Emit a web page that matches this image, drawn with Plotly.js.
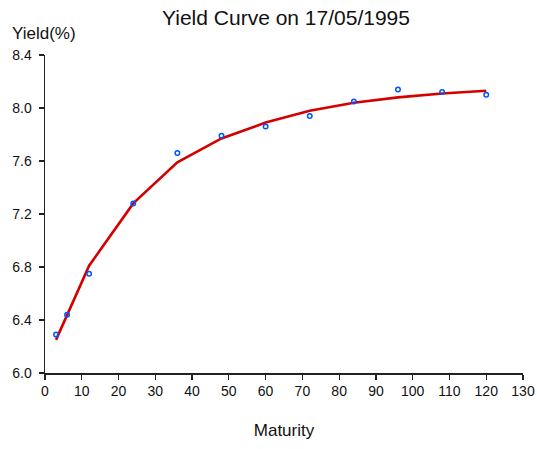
<!DOCTYPE html>
<html>
<head>
<meta charset="utf-8">
<script src="https://cdn.plot.ly/plotly-3.0.1.min.js"></script>
<style>
html,body{margin:0;padding:0;background:#fff;}
#chart{width:537px;height:449px;}
</style>
</head>
<body>
<div id="chart"></div>
<script>
const maturity = [3, 6, 12, 24, 36, 48, 60, 72, 84, 96, 108, 120];
const observedYield = [6.29, 6.44, 6.75, 7.28, 7.66, 7.79, 7.86, 7.94, 8.05, 8.14, 8.12, 8.10];
const fittedYield = [6.25, 6.44, 6.81, 7.28, 7.59, 7.77, 7.89, 7.98, 8.04, 8.08, 8.11, 8.13];
const xTicks = [0, 10, 20, 30, 40, 50, 60, 70, 80, 90, 100, 110, 120, 130];
const yTicks = [6.0, 6.4, 6.8, 7.2, 7.6, 8.0, 8.4];

const font = 'Liberation Sans, Arial, sans-serif';

const traces = [
  {
    x: maturity, y: fittedYield, type: 'scatter', mode: 'lines',
    line: {color: '#d40000', width: 2.6},
    hoverinfo: 'skip', showlegend: false
  },
  {
    x: maturity, y: observedYield, type: 'scatter', mode: 'markers',
    marker: {symbol: 'circle-open', size: 4.5, color: '#0055ff', line: {width: 1.5, color: '#0055ff'}},
    showlegend: false
  }
];

const layout = {
  width: 537, height: 449,
  margin: {l: 45, r: 14, t: 55, b: 76},
  paper_bgcolor: '#ffffff', plot_bgcolor: '#ffffff',
  font: {family: font, color: '#111111', size: 14},
  title: {
    text: 'Yield Curve on 17/05/1995',
    font: {family: font, size: 21, color: '#111111'},
    xref: 'container', x: 286 / 537, xanchor: 'center',
    yref: 'container', y: 1 - 18 / 449, yanchor: 'middle'
  },
  xaxis: {
    range: [0, 130], tickvals: xTicks, ticktext: xTicks.map(String),
    showgrid: false, zeroline: false,
    showline: true, linecolor: '#222222', linewidth: 1.5,
    ticks: 'outside', ticklen: 5, tickwidth: 1.2, tickcolor: '#222222',
    tickfont: {family: font, size: 14, color: '#111111'},
    title: {text: 'Maturity', font: {family: font, size: 17, color: '#111111'}, standoff: 26},
    automargin: false
  },
  yaxis: {
    range: [6.0, 8.4], tickvals: yTicks, ticktext: yTicks.map(v => v.toFixed(1)),
    showgrid: false, zeroline: false,
    showline: true, linecolor: '#222222', linewidth: 1.5,
    ticks: 'outside', ticklen: 5, tickwidth: 1.2, tickcolor: '#222222',
    tickfont: {family: font, size: 14, color: '#111111'},
    ticklabelstandoff: 4,
    automargin: false
  },
  annotations: [
    {
      text: 'Yield(%)', showarrow: false,
      xref: 'paper', x: (10 - 45) / 478, xanchor: 'left',
      yref: 'paper', y: (373 - 33) / 318, yanchor: 'middle',
      font: {family: font, size: 17, color: '#111111'}
    }
  ]
};

Plotly.newPlot('chart', traces, layout, {displayModeBar: false, staticPlot: true});
</script>
</body>
</html>
